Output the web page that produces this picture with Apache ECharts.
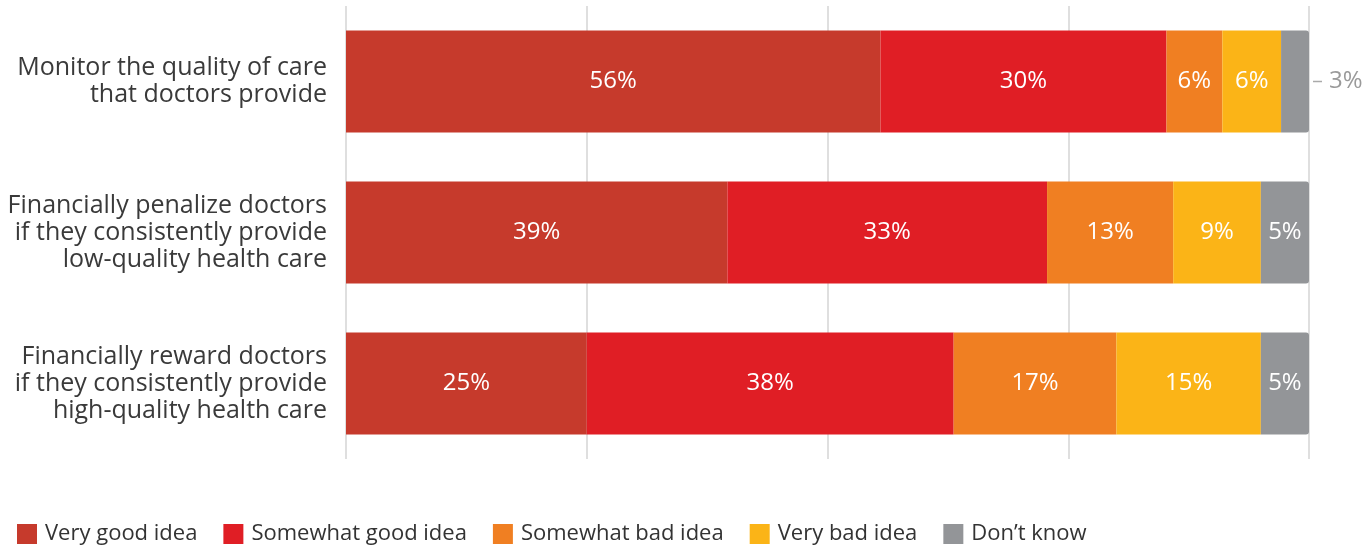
<!DOCTYPE html>
<html><head><meta charset="utf-8">
<script src="https://cdn.jsdelivr.net/npm/echarts@6/dist/echarts.min.js"></script>
<style>html,body{margin:0;padding:0;background:#fff}#c{width:1363px;height:549px}</style>
</head><body><div id="c"></div>
<script>
const categories = [
  'Monitor the quality of care\nthat doctors provide',
  'Financially penalize doctors\nif they consistently provide\nlow-quality health care',
  'Financially reward doctors\nif they consistently provide\nhigh-quality health care'
];
const seriesNames = ['Very good idea','Somewhat good idea','Somewhat bad idea','Very bad idea','Don\u2019t know'];
const veryGood = [55.5, 39.6, 25.0];
const somewhatGood = [29.7, 33.2, 38.1];
const somewhatBad = [5.8, 13.1, 16.9];
const veryBad = [6.1, 9.1, 15.0];
const dontKnow = [2.9, 5.0, 5.0];
const labelsVeryGood = ['56%','39%','25%'];
const labelsSomewhatGood = ['30%','33%','38%'];
const labelsSomewhatBad = ['6%','13%','17%'];
const labelsVeryBad = ['6%','9%','15%'];
const labelsDontKnow = ['3%','5%','5%'];
const xTicks = [0,25,50,75,100];

const colors = ['#C63A2C','#E01E25','#F07F22','#FBB417','#939598'];
const values = [veryGood, somewhatGood, somewhatBad, veryBad, dontKnow];
const labels = [labelsVeryGood, labelsSomewhatGood, labelsSomewhatBad, labelsVeryBad, labelsDontKnow];
const FONT = '"Open Sans", Lato, sans-serif';

const series = seriesNames.map((name, si) => ({
  name, type: 'bar', stack: 'total', barWidth: 102,
  itemStyle: { color: colors[si], borderRadius: si === 4 ? [0,3,3,0] : 0 },
  label: {
    show: true, position: 'inside', color: '#fff', fontSize: 24, fontFamily: FONT,
    formatter: p => labels[si][p.dataIndex]
  },
  data: values[si].map((v, i) => {
    if (si === 4 && i === 0) {
      return {
        value: v,
        label: {
          position: 'right', distance: 4,
          formatter: '{d|}{t|' + labels[si][i] + '}',
          rich: {
            d: { width: 9, height: 1.5, backgroundColor: '#aaa' },
            t: { color: '#9a9a9a', fontSize: 24, fontFamily: FONT, padding: [0,0,0,7] }
          }
        }
      };
    }
    return v;
  })
}));

const chart = echarts.init(document.getElementById('c'));
chart.setOption({
  animation: false,
  grid: { left: 346, right: 54, top: 6, bottom: 90, containLabel: false },
  legend: {
    left: 12, top: 518, icon: 'rect', itemWidth: 20, itemHeight: 20, itemGap: 26,
    textStyle: { fontSize: 22, color: '#333', fontFamily: FONT, padding: [0,0,0,3] },
    data: seriesNames
  },
  xAxis: {
    type: 'value', min: xTicks[0], max: xTicks[xTicks.length-1], interval: 25,
    axisLabel: { show: false }, axisLine: { show: false }, axisTick: { show: false },
    splitLine: { show: true, lineStyle: { color: '#d4d4d4', width: 1.5 } }
  },
  yAxis: {
    type: 'category', inverse: true, data: categories,
    axisLine: { show: false }, axisTick: { show: false },
    axisLabel: { fontSize: 25, color: '#3a3a3a', fontFamily: FONT, lineHeight: 27, align: 'right', margin: 19 }
  },
  series
});
</script></body></html>
